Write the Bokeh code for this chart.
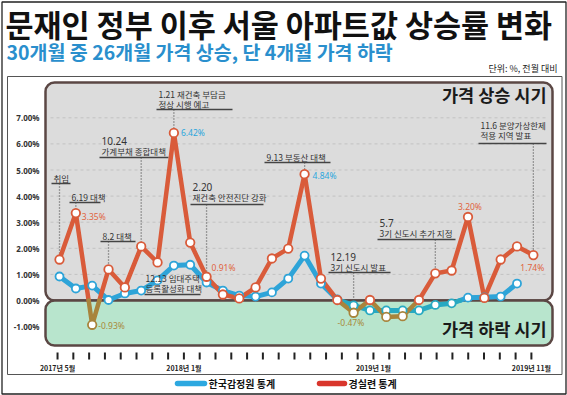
import numpy as np
from bokeh.plotting import figure
from bokeh.models import BoxAnnotation, Range1d
from bokeh.core.properties import value
from bokeh.embed import file_html
from bokeh.resources import INLINE

# ---------------- data ----------------
months = list(range(30))            # 2017-05 .. 2019-11 (경실련)
kyungsil = [1.57, 3.35, -0.93, 1.19, 0.50, 2.07, 1.46, 6.42, 2.22, 0.91,
            0.23, 0.08, 0.50, 1.61, 1.99, 4.84, 0.84, 0.02, -0.47, 0.02,
            -0.63, -0.60, 0.02, 1.04, 1.15, 3.20, 0.10, 1.57, 2.07, 1.74]
kab_months = list(range(29))        # 한국감정원
kab = [0.92, 0.46, 0.57, 0.02, 0.27, 0.38, 0.77, 1.34, 1.37, 0.69,
       0.38, 0.19, 0.15, 0.31, 0.84, 1.72, 0.65, 0.04, -0.19, -0.38,
       -0.38, -0.38, -0.38, -0.17, -0.11, 0.11, 0.12, 0.15, 0.65]
y_ticks = [-1, 0, 1, 2, 3, 4, 5, 6, 7]
x_tick_months = list(range(31))
x_label_months = [0, 8, 20, 30]
x_tick_labels = ["2017년 5월", "2018년 1월", "2019년 1월", "2019년 11월"]
series_names = ["한국감정원 통계", "경실련 통계"]

# highlighted value labels (indices into the series)
hl_red = [1, 2, 9, 18, 25, 29]
hl_blue_on_red = [7, 15]

# ---------------- layout helpers ----------------
W, H = 567, 395
SX, SY = 16.34, 26.1
def X(ax):
    return (ax - 59) / SX
def Y(ay):
    return (300 - ay) / SY

p = figure(width=W, height=H, x_range=Range1d(X(0), X(W)),
           y_range=Range1d(Y(H), Y(0)), toolbar_location=None,
           output_backend="svg", min_border=0,
           x_axis_location=None, y_axis_location=None)
p.grid.visible = False
p.outline_line_color = None
p.background_fill_color = "white"
p.border_fill_color = "white"

KR = value("Noto Sans CJK KR")
LAT = value("Noto Sans")

RED = "#d95b3a"
RED_NEG = "#a8843c"
BLUE = "#2ea4d8"
BLUE_NEG = "#28a9c2"
FRAME = "#5b4744"

def box(l, r, t, b, fill, line, lw, radius=0):
    bx = BoxAnnotation(left=l, right=r, top=t, bottom=b,
                       fill_color=fill, fill_alpha=1 if fill else 0,
                       line_color=line, line_alpha=1, line_width=lw,
                       border_radius=radius, level="underlay")
    p.add_layout(bx)

# outer and inner frames
box(X(1.5), X(565.5), Y(1.5), Y(393.5), None, "#222222", 1.3)
box(X(7), X(561.5), Y(76), Y(374), "white", "#555555", 1)
# rise / fall zones
box(X(45), X(552), Y(82), 0, "#dcdcdc", FRAME, 2.5, 9)
box(X(45), X(552), 0, Y(345), "#b8e5cd", FRAME, 2.5, 9)

# dashed grid
gy = [v for v in y_ticks if v > 0]
p.segment(x0=[X(50)] * len(gy), x1=[X(548)] * len(gy), y0=gy, y1=gy,
          line_color="#c2c2c2", line_width=1, line_dash="3 3")

# y tick labels
p.text(x=[X(39)] * len(y_ticks), y=y_ticks,
       text=[f"{v:.2f}%" for v in y_ticks], text_align="right",
       text_baseline="middle", text_font=LAT, text_font_size="8px",
       text_font_style="bold", text_color="#333333")

# x ticks and labels
tick_pos = np.array(x_tick_months) * (29 / 30) - 0.12
p.segment(x0=tick_pos, x1=tick_pos, y0=[Y(352)] * len(tick_pos),
          y1=[Y(359)] * len(tick_pos), line_color="#222222", line_width=2)
p.text(x=tick_pos[x_label_months], y=[Y(367)] * len(x_label_months),
       text=x_tick_labels, text_align="center", text_baseline="middle",
       text_font=KR, text_font_size="7px", text_font_style="bold",
       text_color="#222222")

# ---------------- annotations ----------------
# (index or None, lines, text left, first line y, underline y, ux0, ux1)
annots = [
    (0, ["취임"], 53, 177, 183, 51, 70),
    (1, ["6.19 대책"], 71, 196, 202, 69, 100),
    (3, ["8.2 대책"], 102, 235, 241, 100, 135),
    (5, ["10.24", "가계부채 종합대책"], 101, 140, 157, 99, 168),
    (7, ["1.21 재건축 부담금", "정상 시행 예고"], 158, 93, 109, 156, 232),
    (9, ["2.20", "재건축 안전진단 강화"], 192, 186, 204, 190, 263),
    (None, ["12.13 임대주택", "등록활성화 대책"], 145, 277, 294, 144, 200),
    (15, ["9.13 부동산 대책"], 266, 156, 162, 264, 330),
    (18, ["12.19", "3기 신도시 발표"], 330, 256, 272, 328, 390),
    (23, ["5.7", "3기 신도시 추가 지정"], 379, 222, 239, 377, 455),
    (29, ["11.6 분양가상한제", "적용 지역 발표"], 480, 124, 143, 478, 546),
]
for idx, lines, tx, ty, uy, ux0, ux1 in annots:
    if idx is not None:
        p.segment(x0=[months[idx]], x1=[months[idx]], y0=[Y(uy)],
                  y1=[kyungsil[idx]], line_color="#555555", line_width=1.3,
                  line_dash="1 2")
    p.segment(x0=[X(ux0)], x1=[X(ux1)], y0=[Y(uy)], y1=[Y(uy)],
              line_color="#444444", line_width=1.3)

# ---------------- series lines ----------------
def split(xs, ys):
    pos = {"x0": [], "y0": [], "x1": [], "y1": []}
    neg = {"x0": [], "y0": [], "x1": [], "y1": []}
    def add(d, a, b, c, e):
        d["x0"].append(a); d["y0"].append(b); d["x1"].append(c); d["y1"].append(e)
    for k in range(len(xs) - 1):
        x0, y0, x1, y1 = xs[k], ys[k], xs[k + 1], ys[k + 1]
        if y0 >= 0 and y1 >= 0:
            add(pos, x0, y0, x1, y1)
        elif y0 <= 0 and y1 <= 0:
            add(neg, x0, y0, x1, y1)
        else:
            xc = x0 + (x1 - x0) * y0 / (y0 - y1)
            if y0 > 0:
                add(pos, x0, y0, xc, 0); add(neg, xc, 0, x1, y1)
            else:
                add(neg, x0, y0, xc, 0); add(pos, xc, 0, x1, y1)
    return pos, neg

bp, bn = split(kab_months, kab)
rp, rn = split(months, kyungsil)
p.segment(line_color=BLUE, line_width=5, line_cap="round", **bp)
p.segment(line_color=BLUE_NEG, line_width=5, line_cap="round", **bn)
p.segment(line_color=RED, line_width=4.5, line_cap="round", **rp)
p.segment(line_color=RED_NEG, line_width=4.5, line_cap="round", **rn)

p.scatter(x=kab_months, y=kab, size=8, marker="circle", fill_color="white",
          line_color=[BLUE if v >= 0 else BLUE_NEG for v in kab], line_width=1.8)
p.scatter(x=months, y=kyungsil, size=8.5, marker="circle", fill_color="white",
          line_color=[RED if v >= 0 else RED_NEG for v in kyungsil], line_width=1.8)

# value labels (pixel offsets dx, dy; dy positive = down)
offsets = {1: (6, 3), 2: (6, 1), 9: (5, -9), 18: (-16, 10), 25: (-10, -10),
           29: (-13, 12), 7: (7, 0), 15: (8, 1)}
lab_x, lab_y, lab_t, lab_c = [], [], [], []
for i in hl_red + hl_blue_on_red:
    dx, dy = offsets[i]
    v = kyungsil[i]
    lab_x.append(months[i] + dx / SX)
    lab_y.append(v - dy / SY)
    lab_t.append(f"{v:.2f}%")
    if i in hl_blue_on_red:
        lab_c.append("#2aa6dc")
    elif v < 0:
        lab_c.append("#a8893a")
    else:
        lab_c.append("#e0643e")
p.text(x=lab_x, y=lab_y, text=lab_t, text_color=lab_c, text_align="left",
       text_baseline="middle", text_font=LAT, text_font_size="8.5px")

# annotation texts (date-only first lines are set a little larger)
for idx, lines, tx, ty, uy, ux0, ux1 in annots:
    for k, line in enumerate(lines):
        date_only = len(lines) > 1 and k == 0 and " " not in line
        p.text(x=[X(tx)], y=[Y(ty + 10.5 * k)], text=[line], text_align="left",
               text_baseline="middle", text_font=LAT if date_only else KR,
               text_font_size="10px" if date_only else "8.5px",
               text_color="#333333")

# zone labels
p.text(x=[X(546)], y=[Y(94)], text=["가격 상승 시기"], text_align="right",
       text_baseline="middle", text_font=KR, text_font_size="17.5px",
       text_font_style="bold", text_color="#1a1a1a")
p.text(x=[X(546)], y=[Y(328)], text=["가격 하락 시기"], text_align="right",
       text_baseline="middle", text_font=KR, text_font_size="17.5px",
       text_font_style="bold", text_color="#1a1a1a")

# titles
p.text(x=[X(5)], y=[Y(23)], text=["문재인 정부 이후 서울 아파트값 상승률 변화"],
       text_align="left", text_baseline="middle", text_font=KR,
       text_font_size="30.5px", text_font_style="bold", text_color="#111111")
p.text(x=[X(6)], y=[Y(51)], text=["30개월 중 26개월 가격 상승, 단 4개월 가격 하락"],
       text_align="left", text_baseline="middle", text_font=KR,
       text_font_size="19.5px", text_font_style="bold", text_color="#2a8fcd")
p.text(x=[X(557)], y=[Y(68)], text=["단위: %, 전월 대비"], text_align="right",
       text_baseline="middle", text_font=KR, text_font_size="9px",
       text_color="#222222")

# legend
p.segment(x0=[X(177)], x1=[X(204)], y0=[Y(383)], y1=[Y(383)],
          line_color="#2da8e0", line_width=5.5, line_cap="round")
p.segment(x0=[X(319)], x1=[X(344)], y0=[Y(383)], y1=[Y(383)],
          line_color="#d9362c", line_width=5.5, line_cap="round")
p.text(x=[X(208), X(348)], y=[Y(383), Y(383)], text=series_names,
       text_align="left", text_baseline="middle", text_font=KR,
       text_font_size="10px", text_font_style="bold", text_color="#111111")

open("out.html", "w").write(file_html(p, INLINE))
